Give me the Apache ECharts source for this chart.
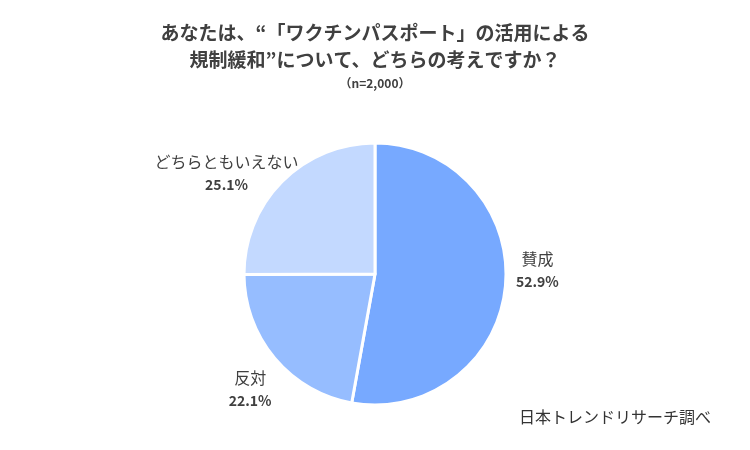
<!DOCTYPE html>
<html>
<head>
<meta charset="utf-8">
<script src="https://cdn.jsdelivr.net/npm/echarts@6/dist/echarts.min.js"></script>
<style>
  html, body { margin: 0; padding: 0; background: #fff; }
  #chart { width: 750px; height: 450px; }
</style>
</head>
<body>
<div id="chart"></div>
<script>
// answers and shares (%)
const answers = ['賛成', '反対', 'どちらともいえない'];
const shares = [52.9, 22.1, 25.1];
const colors = ['#77a9ff', '#96bdff', '#c3d9ff'];

const titleText = 'あなたは、“「ワクチンパスポート」の活用による\n規制緩和”について、どちらの考えですか？';
const subText = '（n=2,000）';
const sourceText = '日本トレンドリサーチ調べ';

// nudge each label (dx, dy) from its default outside spot
const labelNudge = [[2, -17], [2, 21], [-30, 2]];

const font = '"Noto Sans CJK JP", "Noto Sans", sans-serif';

var dom = document.getElementById('chart');
var myChart = echarts.init(dom, null, { renderer: 'canvas' });

var option = {
    animation: false,
    title: [{
        text: titleText,
        subtext: subText,
        left: 'center',
        top: 14,
        itemGap: 4,
        textStyle: {
            fontFamily: font,
            fontSize: 19,
            fontWeight: 'bold',
            color: '#404040',
            lineHeight: 27
        },
        subtextStyle: {
            fontFamily: font,
            fontSize: 12,
            fontWeight: 'bold',
            color: '#404040'
        }
    }, {
        text: sourceText,
        right: 34,
        bottom: 20,
        textStyle: {
            fontFamily: font,
            fontSize: 16,
            fontWeight: 'normal',
            color: '#333'
        }
    }],
    series: [{
        type: 'pie',
        center: [375, 274],
        radius: 131,
        startAngle: 90,
        clockwise: true,
        itemStyle: {
            borderColor: '#fff',
            borderWidth: 3
        },
        label: {
            position: 'outside',
            formatter: function (p) {
                return '{n|' + p.name + '}\n{v|' + p.value.toFixed(1) + '%}';
            },
            rich: {
                n: { fontFamily: font, fontSize: 16, color: '#404040', lineHeight: 24, align: 'center' },
                v: { fontFamily: font, fontSize: 14, fontWeight: 'bold', color: '#404040', lineHeight: 22, align: 'center' }
            }
        },
        labelLine: { show: false, length: 15, length2: 10 },
        labelLayout: function (params) {
            const n = labelNudge[params.dataIndex];
            return { align: 'center', verticalAlign: 'middle', dx: n[0], dy: n[1] };
        },
        data: answers.map(function (a, i) {
            return { name: a, value: shares[i], itemStyle: { color: colors[i] } };
        })
    }]
};

myChart.setOption(option);
window.addEventListener('resize', myChart.resize);
</script>
</body>
</html>
